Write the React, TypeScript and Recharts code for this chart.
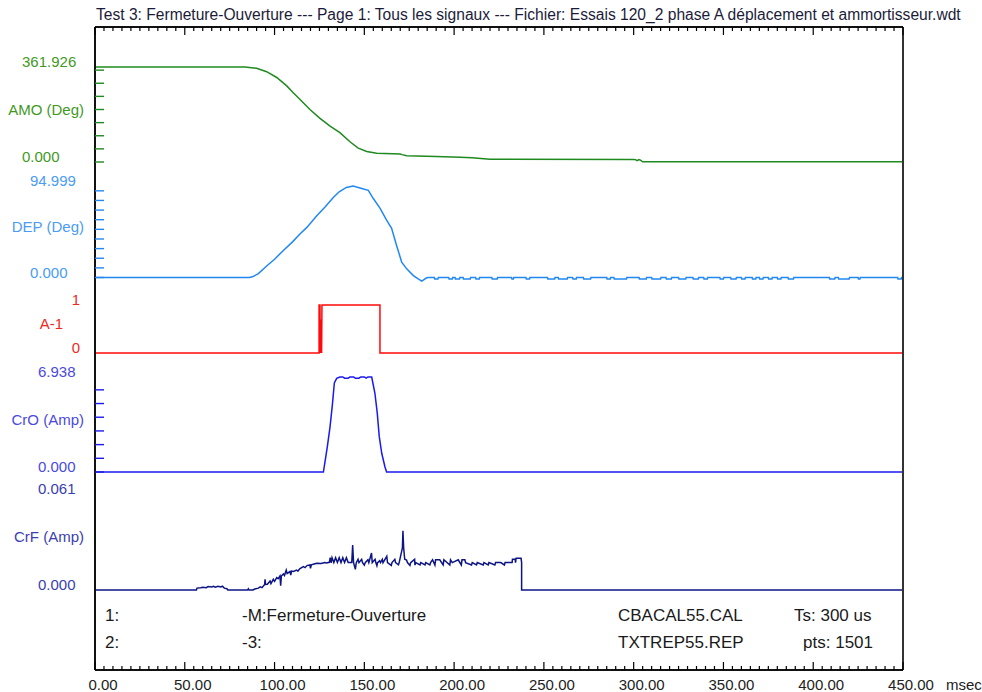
import React from 'react';
import { LineChart, Line, XAxis, YAxis, ReferenceLine } from 'recharts';

document.body.style.margin = '0';

const W = 982;
const H = 692;
const PLOT = { left: 95, right: 903, top: 27, bottom: 670 };
const FONT = '"Liberation Sans", Arial, sans-serif';

const TITLE =
  'Test 3: Fermeture-Ouverture --- Page 1: Tous les signaux --- Fichier: Essais 120_2 phase A déplacement et ammortisseur.wdt';

// time axis, msec
const timeTicks = Array.from({ length: 91 }, (_, i) => i * 5);
const majorTicks = [0, 50, 100, 150, 200, 250, 300, 350, 400, 450];

// AMO (Deg)  [msec, value]
const amoData: [number, number][] = [
  [0, 361.926], [83.5, 361.926], [90, 357], [95.6, 344], [101.2, 322], [106.8, 290],
  [110.4, 264], [114.2, 238], [119.7, 200], [125.3, 166], [130.9, 137], [136.4, 112],
  [142, 77], [146.6, 53], [151.3, 40], [156.9, 33.5], [169.9, 30.5], [171, 28],
  [173.6, 24], [190, 21], [203.3, 18], [210, 16], [220, 10.3], [300, 10], [301, 9],
  [302, 5], [303, 9], [304, 6], [305, 1], [450, 1],
];

// DEP (Deg)
const depData: [number, number][] = [
  [0, 0], [86, 0], [88, 1], [91, 4], [95.6, 12], [100, 19], [104.9, 28], [110, 37],
  [114, 45], [118, 52], [123.5, 64], [128, 73], [132.7, 83], [136, 89], [140, 93.5],
  [143.7, 95], [147.6, 93], [152.2, 90.5], [155, 82], [158.7, 72], [162.4, 59.5],
  [165.2, 51], [168, 33], [170.8, 16], [173.6, 9], [177.3, 2], [180, -1.5], [182, -3.8],
  [184.7, -0.3], [186, 0],
];
// small negative dips in the DEP rest signal [from, to] msec
const depDips: [number, number][] = [
  [189, 191], [197, 199], [200.5, 203], [205, 209], [212, 214], [221, 224], [232, 233],
  [240, 242], [252, 256], [258, 263], [266, 268], [272, 276], [285, 287], [289, 296],
  [303, 307], [310, 315], [318, 321], [325, 329], [333, 336], [339, 341], [348, 350],
  [354, 357], [360, 362], [366, 368], [370, 372], [375, 377], [380, 382], [386, 389],
  [409, 412], [414, 420], [425, 426], [447, 449],
];
const depDipLevel = -1.5;

// A-1 (digital)
const a1Data: [number, number][] = [
  [0, 0], [124.8, 0], [124.8, 1], [125.3, 1], [125.4, 0], [125.6, 0.7], [125.8, 0],
  [126, 0.7], [126.2, 0], [126.4, 1], [158.7, 1], [158.7, 0], [450, 0],
];

// CrO (Amp)
const croData: [number, number][] = [
  [0, 0], [127.2, 0], [128, 0.66], [129.4, 1.85], [130.9, 3.3], [132.2, 4.9], [133.3, 6.5],
  [134.6, 6.84], [136.4, 6.938], [138, 6.938], [139, 6.85], [141, 6.85], [142, 6.938],
  [144, 6.938], [145, 6.85], [147, 6.85], [148, 6.938], [150, 6.938], [151, 6.85],
  [152, 6.938], [154.1, 6.938], [155.9, 5.75], [157.2, 4.3], [158.3, 2.6], [159.7, 1.37],
  [161.5, 0.37], [162.4, 0], [450, 0],
];

// CrF (Amp)
const crfData: [number, number][] = [
  [0, 0], [56.5, 0], [56.8, 0.0012], [59, 0.0015], [60, 0.0018], [62, 0.0015], [63, 0.0022],
  [65, 0.0019], [66, 0.0024], [67, 0.0018], [68.5, 0.0024], [70, 0.0019], [71, 0.0024],
  [72, 0.0012], [73.5, 0.0008], [74, 0], [85, 0], [85.4, 0.0008], [85.8, 0], [88, 0],
  [89, 0.0006], [91, 0.0012], [92, 0.002], [93, 0.0015], [94.5, 0.0035], [94.7, 0.0068],
  [95, 0.0035], [96, 0.0036], [97.5, 0.0057], [98, 0.004], [99.3, 0.0068], [100, 0.0055],
  [101.2, 0.0079], [102, 0.0072], [103, 0.0089], [103.4, 0.0027], [103.8, 0.0089],
  [104.9, 0.0102], [105.5, 0.0092], [106.5, 0.0126], [107, 0.0105], [108.6, 0.0117],
  [109, 0.0095], [109.5, 0.012], [110.5, 0.0118], [112.3, 0.0127], [113, 0.012],
  [114, 0.0135], [116, 0.0148], [117, 0.0142], [118, 0.0155], [119.7, 0.0159], [120, 0.0138],
  [120.5, 0.016], [122, 0.0165], [123.5, 0.017], [126, 0.0168], [128, 0.0174], [129, 0.0172],
  [130.5, 0.0176], [131, 0.0205], [131.5, 0.0172], [132, 0.0205], [133, 0.0174], [134, 0.0205],
  [135, 0.0175], [136, 0.0205], [137, 0.0174], [138, 0.0205], [139, 0.0175], [140, 0.0205],
  [141, 0.0174], [143, 0.0174], [143.5, 0.0286], [144, 0.0174], [145, 0.0131], [145.5, 0.0174],
  [146.5, 0.0195], [147, 0.0174], [148.5, 0.0195], [149, 0.0174], [150, 0.0158], [150.5, 0.0174],
  [152, 0.0192], [152.5, 0.0174], [154, 0.0235], [154.4, 0.0174], [156, 0.0195], [156.4, 0.0174],
  [157, 0.0154], [157.4, 0.0174], [158.5, 0.0186], [159, 0.0174], [160, 0.0195], [160.4, 0.0174],
  [162.5, 0.0214], [162.9, 0.0174], [165, 0.0156], [165.4, 0.0174], [167, 0.0195], [167.4, 0.0174],
  [169, 0.016], [169.4, 0.0174], [171.2, 0.0267], [171.5, 0.0377], [171.9, 0.0267], [172.5, 0.0195],
  [173.5, 0.019], [174, 0.0174], [175.4, 0.0156], [175.8, 0.0174], [178, 0.0195], [178.2, 0.0158],
  [178.6, 0.0174], [181, 0.0159], [181.4, 0.0174], [183.8, 0.0159], [184.2, 0.0174], [186.5, 0.0159],
  [186.9, 0.0174], [188, 0.0192], [189.3, 0.0159], [189.7, 0.0192], [192, 0.0192], [193.9, 0.0159],
  [194.3, 0.0192], [197.6, 0.0159], [198, 0.0192], [199, 0.0174], [202.3, 0.0192], [204, 0.0159],
  [204.4, 0.0192], [206, 0.0192], [206.4, 0.0174], [209.7, 0.0159], [210.1, 0.0174], [212.5, 0.0159],
  [212.9, 0.0174], [216.2, 0.0159], [216.6, 0.0174], [219, 0.0159], [219.4, 0.0174], [222.7, 0.0159],
  [223.1, 0.0174], [226, 0.0174], [228, 0.0159], [228.4, 0.0174], [232.3, 0.0174], [232.5, 0.0195],
  [234, 0.0195], [234.2, 0.0174], [234.5, 0.0201], [237.3, 0.0201], [237.6, 0.0174], [237.6, 0],
  [450, 0],
];

const toPoints = (rows: [number, number][]) => rows.map(([t, v]) => ({ t, v }));

const depRest: [number, number][] = depDips.flatMap(([a, b]) => [
  [a, 0], [a + 0.2, depDipLevel], [b, depDipLevel], [b + 0.2, 0],
] as [number, number][]);

type Panel = {
  id: string;
  name: string;
  max: number;
  maxLabel: string;
  zeroLabel: string;
  top: number; // pixel row of max
  base: number; // pixel row of zero
  line: string;
  text: string;
  marks: number[];
  numX: number;
  numAnchor: 'start' | 'end';
  unitX: number;
  data: { t: number; v: number }[];
};

const panels: Panel[] = [
  {
    id: 'amo', name: 'AMO (Deg)', max: 361.926, maxLabel: '361.926', zeroLabel: '0.000',
    top: 67, base: 162, line: '#1f8a1f', text: '#3f9a1f',
    marks: [0, 50, 100, 150, 200, 250, 300, 350], numX: 22, numAnchor: 'start', unitX: 84,
    data: toPoints(amoData),
  },
  {
    id: 'dep', name: 'DEP (Deg)', max: 94.999, maxLabel: '94.999', zeroLabel: '0.000',
    top: 186, base: 277.5, line: '#2188f2', text: '#4a9cf5',
    marks: [0, 10, 20, 30, 40, 50, 60, 70, 80, 90], numX: 30, numAnchor: 'start', unitX: 84,
    data: toPoints([...depData, ...depRest, [450, 0]]),
  },
  {
    id: 'a1', name: 'A-1', max: 1, maxLabel: '1', zeroLabel: '0',
    top: 305, base: 353, line: '#ff0a0a', text: '#f02a1a',
    marks: [], numX: 80, numAnchor: 'end', unitX: 63,
    data: toPoints(a1Data),
  },
  {
    id: 'cro', name: 'CrO (Amp)', max: 6.938, maxLabel: '6.938', zeroLabel: '0.000',
    top: 377, base: 472, line: '#1a1af0', text: '#4a4ae0',
    marks: [0, 1, 2, 3, 4, 5, 6], numX: 38, numAnchor: 'start', unitX: 84,
    data: toPoints(croData),
  },
  {
    id: 'crf', name: 'CrF (Amp)', max: 0.061, maxLabel: '0.061', zeroLabel: '0.000',
    top: 494, base: 590, line: '#0d1585', text: '#3a40b0',
    marks: [], numX: 38, numAnchor: 'start', unitX: 84,
    data: toPoints(crfData),
  },
];

// every axis gets a 1px box (recharts skips drawing axes of size 0)
const MARGIN = {
  top: PLOT.top - 1,
  bottom: H - PLOT.bottom - 1,
  left: PLOT.left - panels.length,
  right: W - PLOT.right,
};

const domainFor = (p: Panel): [number, number] => {
  const u = p.max / (p.base - p.top);
  return [-(PLOT.bottom - p.base) * u, p.max + (p.top - PLOT.top) * u];
};

const ticksFor = (p: Panel) =>
  Array.from(new Set([...p.marks, 0, p.max, p.max / 2])).sort((a, b) => a - b);

const PanelTick = (props: any, p: Panel) => {
  const { y, payload } = props;
  const v = payload.value;
  return (
    <g>
      {p.marks.includes(v) && (
        <line x1={PLOT.left} x2={PLOT.left + 9} y1={y} y2={y} stroke={p.line} strokeWidth={1.4} />
      )}
      {(v === p.max || v === 0) && (
        <text x={p.numX} y={y} textAnchor={p.numAnchor} fill={p.text} fontSize={15} fontFamily={FONT}>
          {v === 0 ? p.zeroLabel : p.maxLabel}
        </text>
      )}
      {v === p.max / 2 && (
        <text x={p.unitX} y={y} textAnchor="end" fill={p.text} fontSize={15} fontFamily={FONT}>
          {p.name}
        </text>
      )}
    </g>
  );
};

const BottomTick = (props: any) => {
  const { x, payload } = props;
  const v = payload.value;
  const y = PLOT.bottom;
  const major = majorTicks.includes(v);
  return (
    <g>
      <line x1={x} x2={x} y1={y} y2={y - (major ? 8 : 4)} stroke="#000" strokeWidth={1.2} />
      {major && (
        <text x={x + 8} y={y + 20} textAnchor="middle" fill="#222" fontSize={15} fontFamily={FONT}>
          {v.toFixed(2)}
        </text>
      )}
      {v === 450 && (
        <text x={x + 43} y={y + 20} fill="#222" fontSize={15} fontFamily={FONT}>
          msec
        </text>
      )}
    </g>
  );
};

const TopTick = (props: any) => {
  const { x, payload } = props;
  const y = PLOT.top;
  const major = majorTicks.includes(payload.value);
  return <line x1={x} x2={x} y1={y} y2={y + (major ? 8 : 4)} stroke="#000" strokeWidth={1.2} />;
};

const infoRows = [
  ['1:', '-M:Fermeture-Ouverture', 'CBACAL55.CAL', 'Ts: 300 us'],
  ['2:', '-3:', 'TXTREP55.REP', 'pts: 1501'],
];

export default function App() {
  return (
    <div style={{ position: 'relative', width: W, height: H, background: '#fff' }}>
      <LineChart width={W} height={H} margin={MARGIN}>
        <XAxis
          xAxisId="b" type="number" dataKey="t" domain={[0, 450]} allowDataOverflow
          ticks={timeTicks} interval={0} height={1} tickSize={0} tickMargin={0}
          tickLine={false} axisLine={{ stroke: '#111', strokeWidth: 2 }} tick={BottomTick}
        />
        <XAxis
          xAxisId="t" orientation="top" type="number" dataKey="t" domain={[0, 450]} allowDataOverflow
          ticks={timeTicks} interval={0} height={1} tickSize={0} tickMargin={0}
          tickLine={false} axisLine={{ stroke: '#111', strokeWidth: 2 }} tick={TopTick}
        />
        {panels.map((p) => (
          <YAxis
            key={p.id} yAxisId={p.id} type="number" domain={domainFor(p)} allowDataOverflow
            width={1} axisLine={false} tickLine={false} tickSize={0} tickMargin={0} interval={0}
            ticks={ticksFor(p)} tick={(props: any) => PanelTick(props, p)}
          />
        ))}
        {panels.map((p) => (
          <Line
            key={p.id} data={p.data} xAxisId="b" yAxisId={p.id} dataKey="v" type="linear"
            stroke={p.line} strokeWidth={1.5} dot={false} activeDot={false} isAnimationActive={false}
          />
        ))}
        <ReferenceLine xAxisId="b" yAxisId="amo" x={0} stroke="#111" strokeWidth={2} />
        <ReferenceLine xAxisId="b" yAxisId="amo" x={450} stroke="#333" strokeWidth={2} />
      </LineChart>
      <svg width={W} height={H} style={{ position: 'absolute', left: 0, top: 0, pointerEvents: 'none' }}>
        <text x={96} y={20} fill="#1c1c3a" fontSize={15.6} fontFamily={FONT}>
          {TITLE}
        </text>
        {infoRows.map((row, i) => (
          <g key={i} fill="#1a1a1a" fontSize={17} fontFamily={FONT}>
            <text x={105} y={621 + i * 27}>{row[0]}</text>
            <text x={242} y={621 + i * 27}>{row[1]}</text>
            <text x={618} y={621 + i * 27}>{row[2]}</text>
            <text x={i === 0 ? 794 : 873} y={621 + i * 27} textAnchor={i === 0 ? 'start' : 'end'}>
              {row[3]}
            </text>
          </g>
        ))}
      </svg>
    </div>
  );
}
